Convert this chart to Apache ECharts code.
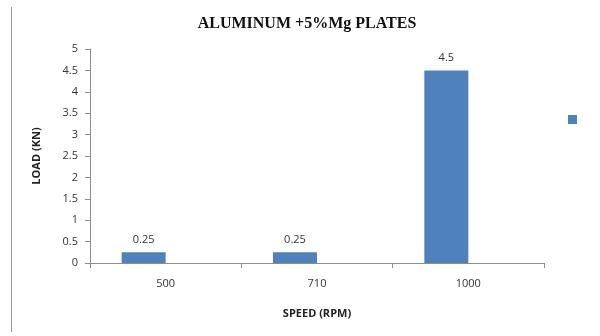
<!DOCTYPE html>
<html>
<head>
<meta charset="utf-8">
<script src="https://cdn.jsdelivr.net/npm/echarts@6/dist/echarts.min.js"></script>
<style>
  html, body { margin: 0; padding: 0; background: #ffffff; }
  #chart { width: 600px; height: 336px; }
</style>
</head>
<body>
<div id="chart"></div>
<script>
// Speed categories (RPM) and measured load (KN)
const speeds = ['500', '710', '1000'];
const loads = [0.25, 0.25, 4.5];
// Empty companion series that keeps the paired-column slot
const emptySeries = [null, null, null];
const yTicks = { min: 0, max: 5, interval: 0.5 };

const chart = echarts.init(document.getElementById('chart'), null, { renderer: 'canvas' });
const labelFont = 'Open Sans';

chart.setOption({
  animation: false,
  backgroundColor: '#ffffff',
  title: {
    text: 'ALUMINUM +5%Mg PLATES',
    left: 302,
    textAlign: 'center',
    top: 11,
    textStyle: { fontFamily: 'Liberation Serif', fontWeight: 'bold', fontSize: 16, color: '#111' }
  },
  legend: {
    data: [{ name: 'Load', icon: 'rect' }],
    left: 568,
    top: 115,
    padding: 0,
    itemWidth: 9,
    itemHeight: 9,
    itemGap: 0,
    formatter: () => '',
    selectedMode: false
  },
  grid: { left: 90, right: 56, top: 49, bottom: 73 },
  xAxis: {
    type: 'category',
    data: speeds,
    boundaryGap: true,
    name: 'SPEED (RPM)',
    nameLocation: 'middle',
    nameGap: 45,
    nameTextStyle: { fontFamily: labelFont, fontWeight: 'bold', fontSize: 11, color: '#222' },
    axisLine: { lineStyle: { color: '#8c8c8c', width: 1 } },
    axisTick: { show: true, alignWithLabel: false, length: 5, lineStyle: { color: '#8c8c8c' } },
    axisLabel: { fontFamily: labelFont, fontSize: 11, color: '#333', margin: 15 }
  },
  yAxis: {
    type: 'value',
    min: yTicks.min,
    max: yTicks.max,
    interval: yTicks.interval,
    name: 'LOAD (KN)',
    nameLocation: 'middle',
    nameGap: 48,
    nameRotate: 90,
    nameTextStyle: { fontFamily: labelFont, fontWeight: 'bold', fontSize: 11, color: '#222' },
    axisLine: { show: true, lineStyle: { color: '#8c8c8c', width: 1 } },
    axisTick: { show: true, length: 5, lineStyle: { color: '#8c8c8c' } },
    splitLine: { show: false },
    axisLabel: { fontFamily: labelFont, fontSize: 11, color: '#333', margin: 12 }
  },
  series: [
    {
      name: 'Load',
      type: 'bar',
      data: loads,
      barWidth: 44,
      barGap: '0%',
      itemStyle: { color: '#4f81bd' },
      label: {
        show: true,
        position: 'top',
        distance: 7,
        fontFamily: labelFont,
        fontSize: 11,
        color: '#333'
      }
    },
    {
      name: 'Empty',
      type: 'bar',
      data: emptySeries,
      barWidth: 44,
      barGap: '0%',
      itemStyle: { color: '#c0504d' }
    }
  ],
  graphic: [
    {
      type: 'line',
      shape: { x1: 11.5, y1: 7, x2: 11.5, y2: 332 },
      style: { stroke: '#9a9a9a', lineWidth: 1 }
    }
  ]
});
</script>
</body>
</html>
